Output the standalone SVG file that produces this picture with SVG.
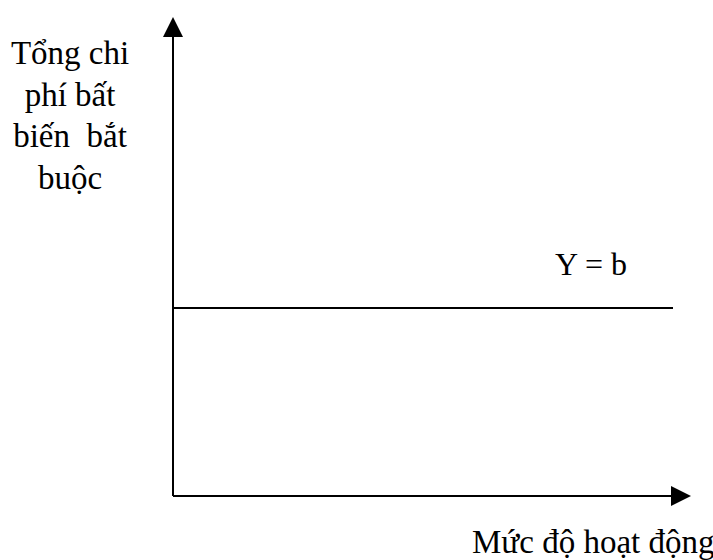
<svg xmlns="http://www.w3.org/2000/svg" width="713" height="560" viewBox="0 0 713 560">
<style>
text{font-family:"Liberation Serif","Times New Roman",serif;font-size:33px;fill:#000}
.ax{stroke:#000;stroke-width:2;fill:none}
</style>
<defs>
<marker id="ah" markerWidth="20" markerHeight="20" refX="0" refY="10" orient="auto" markerUnits="userSpaceOnUse">
<path d="M0,0 L20,10 L0,20 Z" fill="#000"/>
</marker>
</defs>
<rect width="713" height="560" fill="#fff"/>
<g id="connectors">
<path class="ax" d="M173,496 L173,37" marker-end="url(#ah)"/>
<path class="ax" d="M173,496 L671,496" marker-end="url(#ah)"/>
<path class="ax" d="M173,308 L673,308"/>
</g>
<g id="ylabel">
<text x="70" y="64" text-anchor="middle">Tổng chi</text>
<text x="70" y="105.5" text-anchor="middle">phí bất</text>
<text x="70" y="147" text-anchor="middle" style="white-space:pre">biến  bắt</text>
<text x="70" y="188.5" text-anchor="middle">buộc</text>
</g>
<g id="line-label">
<text x="555" y="275" style="font-size:32px">Y = b</text>
</g>
<g id="xlabel">
<text x="472" y="553">Mức độ hoạt động</text>
</g>
</svg>
